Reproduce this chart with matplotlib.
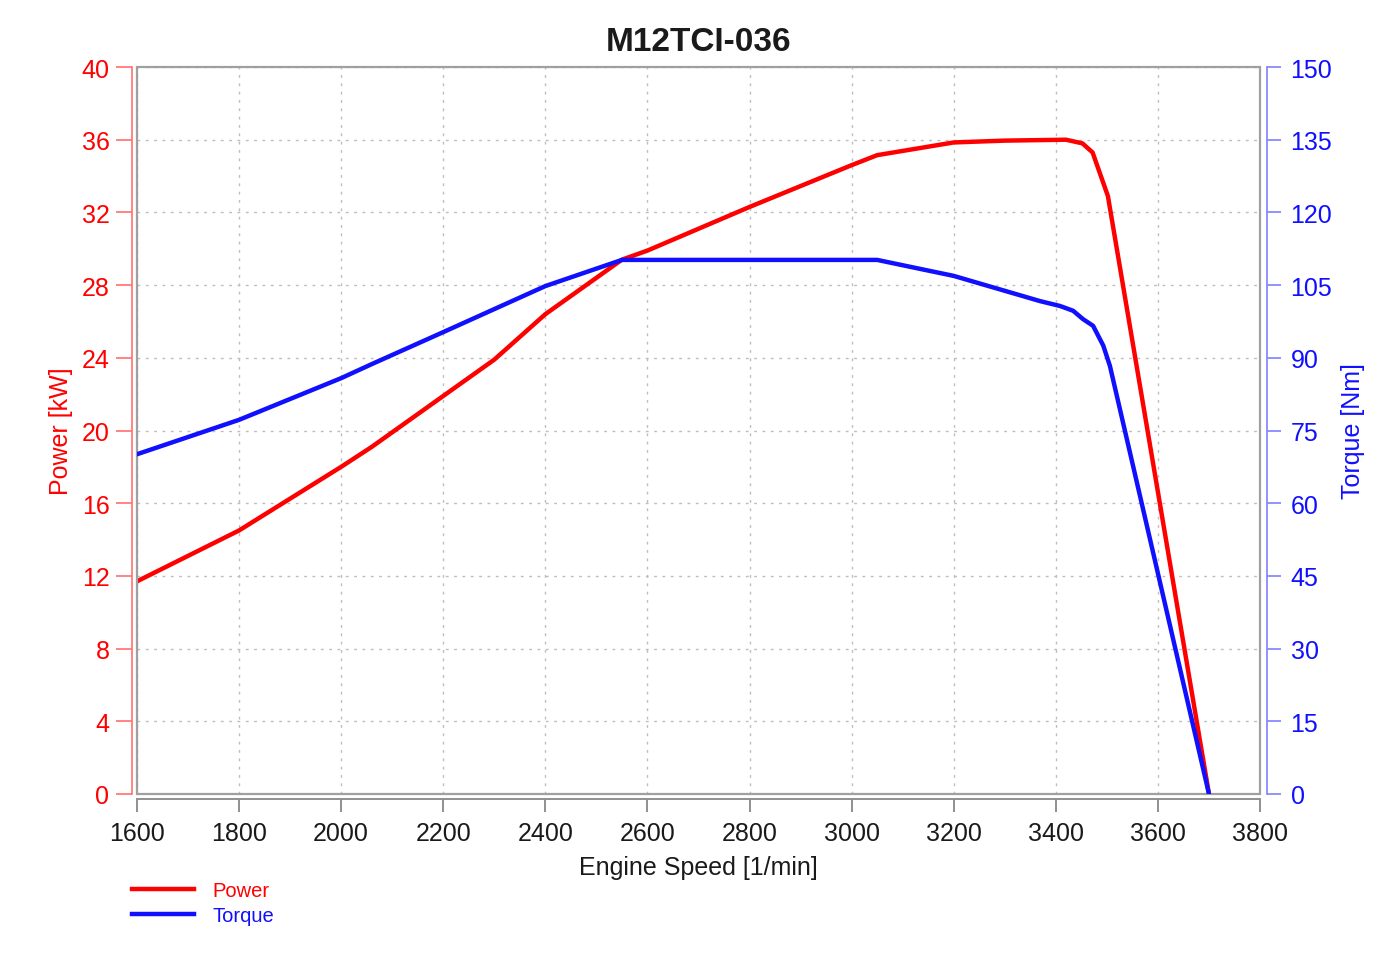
import matplotlib
matplotlib.use("Agg")
import matplotlib.pyplot as plt
from matplotlib.patches import Rectangle

plt.rcParams['font.family'] = ['Liberation Sans', 'DejaVu Sans']

title = "M12TCI-036"
x_label = "Engine Speed [1/min]"
power_label = "Power [kW]"
torque_label = "Torque [Nm]"

power_rpm = [1600, 1800, 2000, 2060, 2200, 2300, 2400, 2550, 2600, 2800, 3000, 3050,
             3200, 3300, 3420, 3452, 3472, 3502, 3700]
power_kw = [11.7, 14.5, 18.0, 19.1, 21.9, 23.9, 26.4, 29.4, 29.9, 32.3, 34.6, 35.15,
            35.85, 35.95, 36.0, 35.8, 35.3, 32.9, 0.0]

torque_rpm = [1600, 1800, 2000, 2060, 2200, 2400, 2550, 3050, 3200, 3369, 3408, 3434,
              3453, 3473, 3493, 3506, 3700]
torque_nm = [70.1, 77.2, 85.8, 88.7, 95.3, 104.8, 110.2, 110.2, 106.9, 101.7, 100.7, 99.7,
             98.0, 96.6, 92.5, 88.3, 0.0]

x_ticks = list(range(1600, 3801, 200))
power_ticks = list(range(0, 41, 4))
torque_ticks = list(range(0, 151, 15))

fig = plt.figure(figsize=(13.96, 9.62), dpi=100)
ax = fig.add_axes([0.0981, 0.1736, 0.8045, 0.7557])
ax2 = ax.twinx()

red = '#ff0000'
blue = '#1010ff'

l1, = ax.plot(power_rpm, power_kw, color=red, lw=3.2, solid_joinstyle='round', zorder=3)
l2, = ax2.plot(torque_rpm, torque_nm, color=blue, lw=3.2, solid_joinstyle='round', zorder=3)

ax.set_xlim(1600, 3800)
ax.set_ylim(0, 40)
ax2.set_ylim(0, 150)
ax.set_xticks(x_ticks)
ax.set_yticks(power_ticks)
ax2.set_yticks(torque_ticks)

ax.grid(True, color='#bdbdbd', linestyle=(0, (2, 4)), linewidth=1.0)

# Frame
ax.add_patch(Rectangle((0, 0), 1, 1, transform=ax.transAxes, fill=False,
                       edgecolor='#a0a0a0', lw=1.6, clip_on=False, zorder=5))

for s in ['top', 'right']:
    ax.spines[s].set_visible(False)
ax.spines['left'].set_position(('outward', 3.3))
ax.spines['left'].set_color('#ff7070')
ax.spines['left'].set_linewidth(1.2)
ax.spines['bottom'].set_position(('outward', 3.8))
ax.spines['bottom'].set_color('#909090')
ax.spines['bottom'].set_linewidth(1.4)

for s in ['top', 'left', 'bottom']:
    ax2.spines[s].set_visible(False)
ax2.spines['right'].set_position(('outward', 5))
ax2.spines['right'].set_color('#8080ff')
ax2.spines['right'].set_linewidth(1.2)

ax.tick_params(axis='y', colors='#ff7070', labelcolor=red, length=11.5, width=1.2,
               pad=5, labelsize=18)
ax.tick_params(axis='x', colors='#909090', labelcolor='#1a1a1a', length=9, width=1.4,
               pad=6.5, labelsize=18)
ax2.tick_params(axis='y', colors='#8080ff', labelcolor=blue, length=10, width=1.2,
                pad=7, labelsize=18)

ax.set_xlabel(x_label, fontsize=18, color='#1a1a1a', labelpad=7)
ax.set_ylabel(power_label, fontsize=18, color=red, labelpad=6)
ax2.set_ylabel(torque_label, fontsize=18, color=blue, labelpad=6)
ax.set_title(title, fontsize=24, fontweight='bold', color='#1a1a1a', pad=12)

fig.legend([l1, l2], ['Power', 'Torque'], loc='upper left',
           bbox_to_anchor=(0.0815, 0.102), frameon=False, fontsize=14.5,
           handlelength=3.1, handletextpad=0.9, labelspacing=0.3,
           labelcolor='linecolor')

fig.savefig('out.png', dpi=100)
